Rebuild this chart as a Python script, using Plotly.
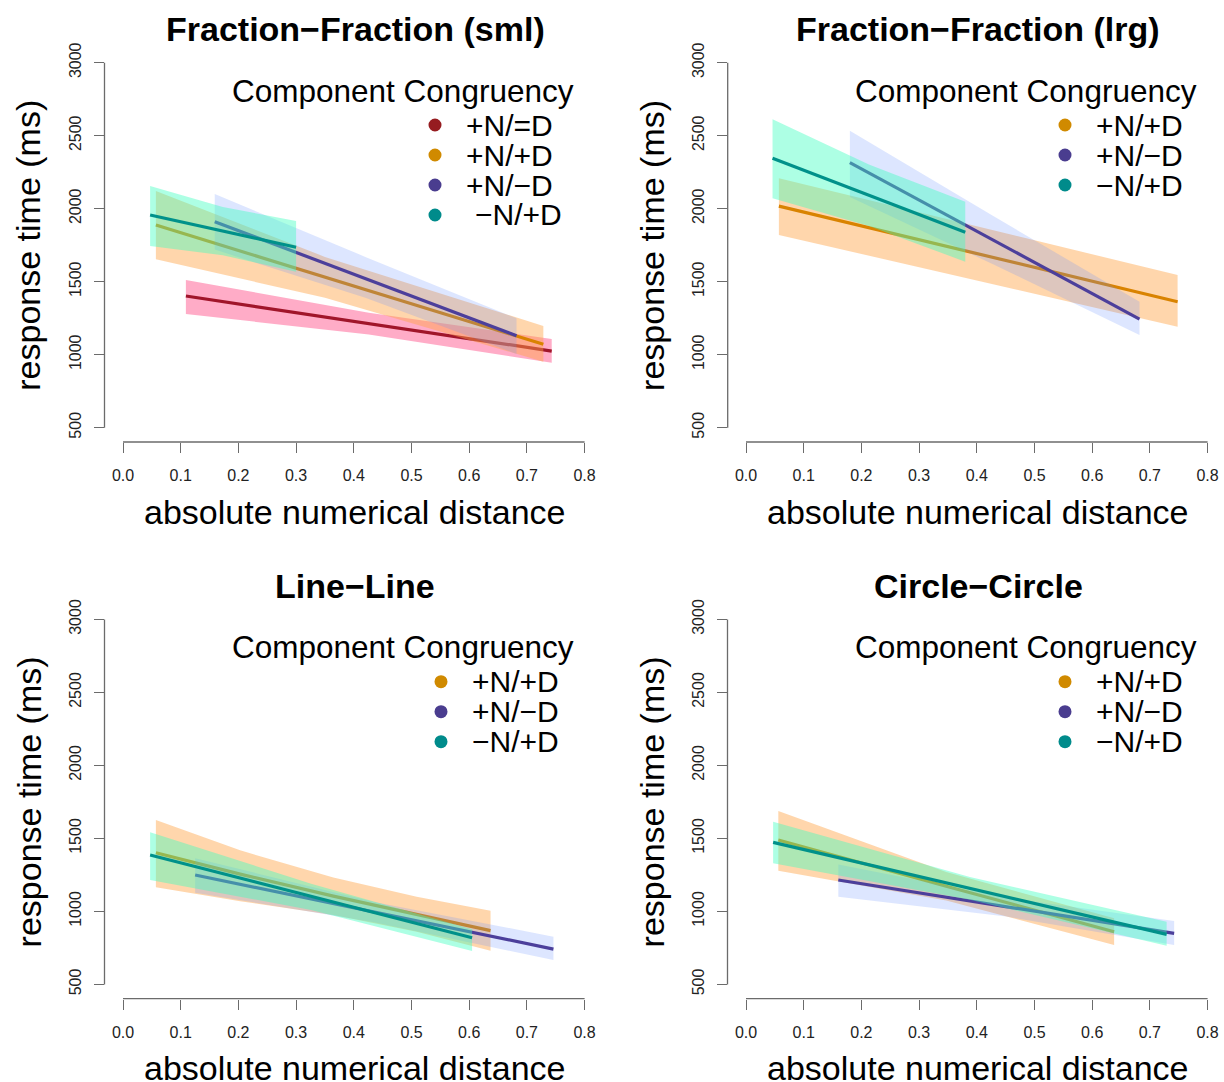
import plotly.graph_objects as go

W, H = 1224, 1082
FONT = "Liberation Sans"

TITLES = ["Fraction\u2212Fraction (sml)", "Fraction\u2212Fraction (lrg)",
          "Line\u2212Line", "Circle\u2212Circle"]
LEGEND_TITLE = "Component Congruency"
X_TITLE = "absolute numerical distance"
Y_TITLE = "response time (ms)"

X_TICKS = [0.0, 0.1, 0.2, 0.3, 0.4, 0.5, 0.6, 0.7, 0.8]
X_TICK_TEXT = ["0.0", "0.1", "0.2", "0.3", "0.4", "0.5", "0.6", "0.7", "0.8"]
Y_TICKS = [500, 1000, 1500, 2000, 2500, 3000]

EQ, PP, PM, MP = "+N/=D", "+N/+D", "+N/\u2212D", "\u2212N/+D"

# Fraction-Fraction (sml): distance, fitted RT, lower / upper band
SML_X = {EQ: [0.109, 0.426, 0.743], PP: [0.057, 0.350, 0.7285],
         PM: [0.159, 0.420, 0.682], MP: [0.047, 0.173, 0.300]}
SML_FIT = {EQ: [1402, 1213, 1025], PP: [1888, 1531, 1071],
           PM: [1911, 1521, 1130], MP: [1957, 1846, 1736]}
SML_LO = {EQ: [1279, 1138, 945], PP: [1653, 1390, 952],
          PM: [1720, 1390, 1005], MP: [1744, 1681, 1568]}
SML_HI = {EQ: [1512, 1288, 1108], PP: [2121, 1670, 1197],
          PM: [2100, 1670, 1249], MP: [2155, 2011, 1916]}

# Fraction-Fraction (lrg)
LRG_X = {PP: [0.057, 0.400, 0.748], PM: [0.180, 0.430, 0.682], MP: [0.046, 0.213, 0.380]}
LRG_FIT = {PP: [2018, 1693, 1363], PM: [2315, 1781, 1244], MP: [2345, 2092, 1838]}
LRG_LO = {PP: [1820, 1510, 1192], PM: [2080, 1616, 1135], MP: [2071, 1882, 1637]}
LRG_HI = {PP: [2208, 1879, 1546], PM: [2534, 1946, 1363], MP: [2612, 2302, 2048]}

# Line-Line
LINE_X = {PP: [0.057, 0.203, 0.3645, 0.509, 0.637], PM: [0.125, 0.435, 0.746],
          MP: [0.047, 0.326, 0.605]}
LINE_FIT = {PP: [1402, 1255, 1105, 980, 868], PM: [1249, 996, 742], MP: [1386, 1103, 820]}
LINE_LO = {PP: [1165, 1070, 975, 860, 731], PM: [1128, 925, 667], MP: [1215, 1010, 729]}
LINE_HI = {PP: [1626, 1418, 1233, 1100, 1005], PM: [1364, 1065, 827], MP: [1542, 1190, 877]}

# Circle-Circle
CIRC_X = {PP: [0.056, 0.347, 0.638], PM: [0.160, 0.451, 0.742], MP: [0.047, 0.388, 0.729]}
CIRC_FIT = {PP: [1489, 1172, 861], PM: [1215, 1032, 850], MP: [1473, 1158, 843]}
CIRC_LO = {PP: [1279, 1075, 770], PM: [1101, 965, 770], MP: [1329, 1080, 765]}
CIRC_HI = {PP: [1688, 1270, 953], PM: [1322, 1095, 934], MP: [1614, 1235, 929]}

LINE_COL = {EQ: "#A0152A", PP: "#D98300", PM: "#4C3F9B", MP: "#00918A"}
DOT_COL = {EQ: "#961C20", PP: "#D08A00", PM: "#4A3D8F", MP: "#008B8B"}
BAND_COL = {EQ: "rgba(255,70,130,0.45)", PP: "rgba(255,165,70,0.45)",
            PM: "rgba(100,140,255,0.22)", MP: "rgba(60,255,190,0.42)"}

PANELS = [
    dict(title=TITLES[0], order=[EQ, PP, PM, MP], x=SML_X, fit=SML_FIT, lo=SML_LO, hi=SML_HI),
    dict(title=TITLES[1], order=[PP, PM, MP], x=LRG_X, fit=LRG_FIT, lo=LRG_LO, hi=LRG_HI),
    dict(title=TITLES[2], order=[PP, PM, MP], x=LINE_X, fit=LINE_FIT, lo=LINE_LO, hi=LINE_HI),
    dict(title=TITLES[3], order=[PP, PM, MP], x=CIRC_X, fit=CIRC_FIT, lo=CIRC_LO, hi=CIRC_HI),
]

# page geometry of each panel (pixels): x=0 position, 500 ms position, axis lines
PX_PER_X = 577.0
PX_PER_MS = 365.0 / 2500.0
GEOM = [
    dict(x0=123.0, y500=427.7, yline=104.5, xline=442.0, dot=312, txt=341.3),
    dict(x0=746.0, y500=427.7, yline=727.7, xline=442.0, dot=319, txt=347.6),
    dict(x0=123.0, y500=984.4, yline=104.5, xline=998.7, dot=318, txt=346.8),
    dict(x0=746.0, y500=984.4, yline=727.5, xline=998.7, dot=319, txt=347.6),
]

AXIS_GREY = "#6b6b6b"

fig = go.Figure()
layout = dict(width=W, height=H, margin=dict(l=0, r=0, t=0, b=0),
              paper_bgcolor="white", plot_bgcolor="white", showlegend=False,
              font=dict(family=FONT, color="black"))
shapes, annotations = [], []


def px(xp):
    return xp / W


def py(yp):
    return 1 - yp / H


for i, (panel, g) in enumerate(zip(PANELS, GEOM)):
    n = "" if i == 0 else str(i + 1)
    xa, ya = "x" + n, "y" + n
    right_px = min(g["x0"] + 0.83 * PX_PER_X, W - 2)
    top_px = g["y500"] - 2680 * PX_PER_MS
    x_lo = (g["yline"] - g["x0"]) / PX_PER_X
    x_hi = (right_px - g["x0"]) / PX_PER_X
    y_lo = 500 - (g["xline"] - g["y500"]) / PX_PER_MS
    y_hi = 500 + (g["y500"] - top_px) / PX_PER_MS

    layout["xaxis" + n] = dict(
        domain=[px(g["yline"]), px(right_px)], range=[x_lo, x_hi], anchor=ya,
        showgrid=False, zeroline=False, showline=False,
        tickvals=X_TICKS, ticktext=X_TICK_TEXT, ticks="outside", ticklen=10,
        tickwidth=1.3, tickcolor=AXIS_GREY, ticklabelstandoff=9,
        tickfont=dict(size=16, color="#222"))
    layout["yaxis" + n] = dict(
        domain=[py(g["xline"]), py(top_px)], range=[y_lo, y_hi], anchor=xa,
        showgrid=False, zeroline=False, showline=False,
        tickvals=Y_TICKS, ticks="outside", ticklen=10, tickangle=-90,
        tickwidth=1.3, tickcolor=AXIS_GREY, ticklabelstandoff=6,
        tickfont=dict(size=16, color="#222"))

    # axis lines spanning only the tick range
    shapes.append(dict(type="line", xref=xa, yref=ya + " domain", x0=0, x1=0.8, y0=0, y1=0,
                       line=dict(color=AXIS_GREY, width=1.3)))
    shapes.append(dict(type="line", xref=xa + " domain", yref=ya, x0=0, x1=0, y0=500, y1=3000,
                       line=dict(color=AXIS_GREY, width=1.3)))

    for cond in panel["order"]:
        xs = panel["x"][cond]
        lo, hi = panel["lo"][cond], panel["hi"][cond]
        fig.add_trace(go.Scatter(
            x=xs + xs[::-1], y=hi + lo[::-1], xaxis=xa, yaxis=ya,
            mode="lines", fill="toself", fillcolor=BAND_COL[cond],
            line=dict(width=0), hoverinfo="skip", name=cond))
        fig.add_trace(go.Scatter(
            x=xs, y=panel["fit"][cond], xaxis=xa, yaxis=ya, mode="lines",
            line=dict(color=LINE_COL[cond], width=3.2), name=cond))

    # titles
    annotations.append(dict(text="<b>%s</b>" % panel["title"], xref="paper", yref="paper",
                            x=px(g["x0"] + 232), y=py(g["y500"] - 398.5),
                            xanchor="center", yanchor="middle", showarrow=False,
                            font=dict(size=34, family=FONT, color="black")))
    annotations.append(dict(text=X_TITLE, xref="paper", yref="paper",
                            x=px(g["x0"] + 231), y=py(g["y500"] + 84.0),
                            xanchor="center", yanchor="middle", showarrow=False,
                            font=dict(size=34, family=FONT, color="black")))
    annotations.append(dict(text=Y_TITLE, xref="paper", yref="paper", textangle=-90,
                            x=px(g["yline"] - 76), y=py(g["y500"] - 182.5),
                            xanchor="center", yanchor="middle", showarrow=False,
                            font=dict(size=34, family=FONT, color="black")))

    # legend
    annotations.append(dict(text=LEGEND_TITLE, xref="paper", yref="paper",
                            x=px(g["x0"] + 279.5), y=py(g["y500"] - 337),
                            xanchor="center", yanchor="middle", showarrow=False,
                            font=dict(size=31.5, family=FONT, color="black")))
    for k, cond in enumerate(panel["order"]):
        cy = g["y500"] - 302.7 + 30 * k
        cx = g["x0"] + g["dot"]
        r = 6.5
        shapes.append(dict(type="circle", xref="paper", yref="paper",
                           x0=px(cx - r), x1=px(cx + r), y0=py(cy + r), y1=py(cy - r),
                           fillcolor=DOT_COL[cond], line=dict(width=0)))
        tx = g["x0"] + g["txt"] + (8.4 if (i == 0 and cond == MP) else 0)
        annotations.append(dict(text=cond, xref="paper", yref="paper",
                                x=px(tx), y=py(cy), xanchor="left", yanchor="middle",
                                showarrow=False,
                                font=dict(size=30, family=FONT, color="black")))

layout["shapes"] = shapes
layout["annotations"] = annotations
fig.update_layout(**layout)
fig.write_html("out.html")
